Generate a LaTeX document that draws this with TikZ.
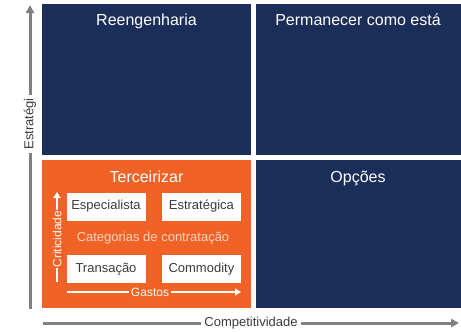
\documentclass[tikz,border=0pt]{standalone}
\usepackage{fontspec}
\setmainfont{Liberation Sans}
\usetikzlibrary{arrows.meta,positioning}
\definecolor{azul}{RGB}{27,46,90}
\definecolor{laranja}{RGB}{240,98,38}
\definecolor{eixo}{RGB}{128,128,128}
\definecolor{pessego}{RGB}{252,212,190}
\definecolor{texto}{RGB}{60,60,60}

\begin{document}
\begin{tikzpicture}[x=1pt,y=-1pt, every node/.style={inner sep=1pt},
    titulo/.style={text=white, anchor=base, font=\fontsize{16}{18}\selectfont},
    caixa/.style={fill=white, text=texto, minimum width=79pt, minimum height=28pt, inner sep=0pt, font=\fontsize{13}{15}\selectfont},
    seta/.style={line width=3pt, eixo, -{Triangle[length=8pt,width=8pt]}}]
  \useasboundingbox (0,0) rectangle (461,332);
  % quadrantes
  \fill[azul] (42,4) rectangle (251,155);
  \fill[azul] (256,4) rectangle (461,155);
  \fill[laranja] (42,160) rectangle (251,308);
  \fill[azul] (256,160) rectangle (461,308);
  \node[titulo] (reeng) at (146.5,25) {Reengenharia};
  \node[titulo] (permanecer) at (358,25) {Permanecer como está};
  \node[titulo] (terceirizar) at (146.5,182) {Terceirizar};
  \node[titulo] (opcoes) at (358,182) {Opções};

  % categorias
  \node[caixa] (especialista) at (106,206.5) {Especialista};
  \node[caixa, right=16pt of especialista] (estrategica) {Estratégica};
  \node[caixa, below=34pt of especialista] (transacao) {Transação};
  \node[caixa, right=16pt of transacao] (commodity) {Commodity};
  \node[text=pessego, font=\fontsize{13}{15}\selectfont] (categorias) at (153,238) {Categorias de contratação};

  \coordinate (critA) at (57,282);
  \coordinate (critB) at (57,192);
  \draw[white, line width=2pt, -{Triangle[length=6pt,width=7pt]}] (critA) -- (critB);
  \node[rotate=90, fill=laranja, text=white, font=\fontsize{12}{14}\selectfont] (criticidade) at (57,239) {Criticidade};

  \coordinate (gastosA) at (67,292);
  \coordinate (gastosB) at (241,292);
  \draw[white, line width=2pt, -{Triangle[length=6pt,width=7pt]}] (gastosA) -- (gastosB);
  \node[fill=laranja, text=white, inner sep=2pt, font=\fontsize{12}{14}\selectfont] (gastos) at (150,292) {Gastos};

  % eixos
  \coordinate (origemV) at (30,309);
  \coordinate (topo) at (30,5);
  \draw[seta] (origemV) -- (topo);
  \node[rotate=90, fill=white, text=texto, inner sep=3pt, font=\fontsize{13}{15}\selectfont] (estrategia) at (30,124) {Estratégi};

  \coordinate (origemH) at (43,323);
  \coordinate (fim) at (459,323);
  \draw[seta] (origemH) -- (fim);
  \node[fill=white, text=texto, inner sep=3pt, font=\fontsize{13}{15}\selectfont] (competitividade) at (251,323) {Competitividade};
\end{tikzpicture}
\end{document}
